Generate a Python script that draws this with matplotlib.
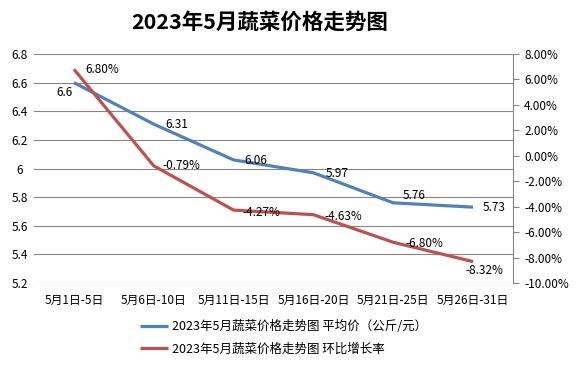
import matplotlib
matplotlib.use('Agg')
import matplotlib.pyplot as plt
import numpy as np

plt.rcParams['font.family'] = ['Noto Sans CJK SC', 'DejaVu Sans']

# data
categories = ['5月1日-5日', '5月6日-10日', '5月11日-15日', '5月16日-20日', '5月21日-25日', '5月26日-31日']
avg_price = [6.6, 6.31, 6.06, 5.97, 5.76, 5.73]
mom_rate = [6.80, -0.79, -4.27, -4.63, -6.80, -8.32]
price_labels = ['6.6', '6.31', '6.06', '5.97', '5.76', '5.73']
price_ticks = [5.2, 5.4, 5.6, 5.8, 6.0, 6.2, 6.4, 6.6, 6.8]
price_ticklabels = ['5.2', '5.4', '5.6', '5.8', '6', '6.2', '6.4', '6.6', '6.8']
rate_ticks = [-10, -8, -6, -4, -2, 0, 2, 4, 6, 8]

blue = '#4F81BD'
red = '#C0504D'
grey = '#868686'

fig = plt.figure(figsize=(5.76, 3.72), dpi=100)
ax = fig.add_axes([34/576, 1-283/372, (513-34)/576, (283-54)/372])
ax2 = ax.twinx()

x = np.arange(len(categories))
ax.plot(x, avg_price, color=blue, lw=2.3, solid_capstyle='butt',
        label='2023年5月蔬菜价格走势图 平均价（公斤/元）')
ax2.plot(x, mom_rate, color=red, lw=2.3, solid_capstyle='butt',
         label='2023年5月蔬菜价格走势图 环比增长率')

ax.set_xlim(-0.5, 5.5)
ax.set_ylim(5.2, 6.8)
ax2.set_ylim(-10, 8)

ax.set_yticks(price_ticks)
ax.set_yticklabels(price_ticklabels, fontsize=8.5, ha='center')
ax.tick_params(axis='y', length=0, pad=10.5)
ax.grid(axis='y', color=grey, lw=0.8)
ax.set_axisbelow(True)
ax.set_xticks(x)
ax.set_xticklabels(categories, fontsize=8.5)
ax.tick_params(axis='x', length=0, pad=8)

for s in ['top', 'left', 'bottom', 'right']:
    ax.spines[s].set_visible(False)
for s in ['top', 'left', 'bottom']:
    ax2.spines[s].set_visible(False)
ax2.spines['right'].set_color(grey)
ax2.spines['right'].set_linewidth(0.8)

ax2.set_yticks(rate_ticks)
ax2.set_yticklabels(['%.2f%%' % v for v in rate_ticks], fontsize=8.5)
ax2.tick_params(axis='y', length=4, color=grey, width=0.8, pad=4)

# data labels (offsets in pixels)
blue_off = [(-9, -10), (23, 0), (22, -1), (24, -1), (21, 7), (21, 0)]
red_off = [(28, 0), (28, 0), (28, -2), (30, -2), (31, -1), (11, -9)]
for i in range(len(x)):
    ax.annotate(price_labels[i], (x[i], avg_price[i]), xytext=blue_off[i],
                textcoords='offset pixels', ha='center', va='center', fontsize=8.5)
    ax2.annotate('%.2f%%' % mom_rate[i], (x[i], mom_rate[i]), xytext=red_off[i],
                 textcoords='offset pixels', ha='center', va='center', fontsize=8.5)

fig.text(260/576, 1-22/372, '2023年5月蔬菜价格走势图', ha='center', va='center',
         fontsize=15.5, fontweight='bold')

h1, l1 = ax.get_legend_handles_labels()
h2, l2 = ax2.get_legend_handles_labels()
fig.legend(h1 + h2, l1 + l2, loc='upper left', bbox_to_anchor=(140/576, 1-320/372),
           frameon=False, fontsize=9, handlelength=2.2, handletextpad=0.35,
           labelspacing=0.75, borderpad=0, borderaxespad=0)

fig.savefig('out.png', dpi=100)
